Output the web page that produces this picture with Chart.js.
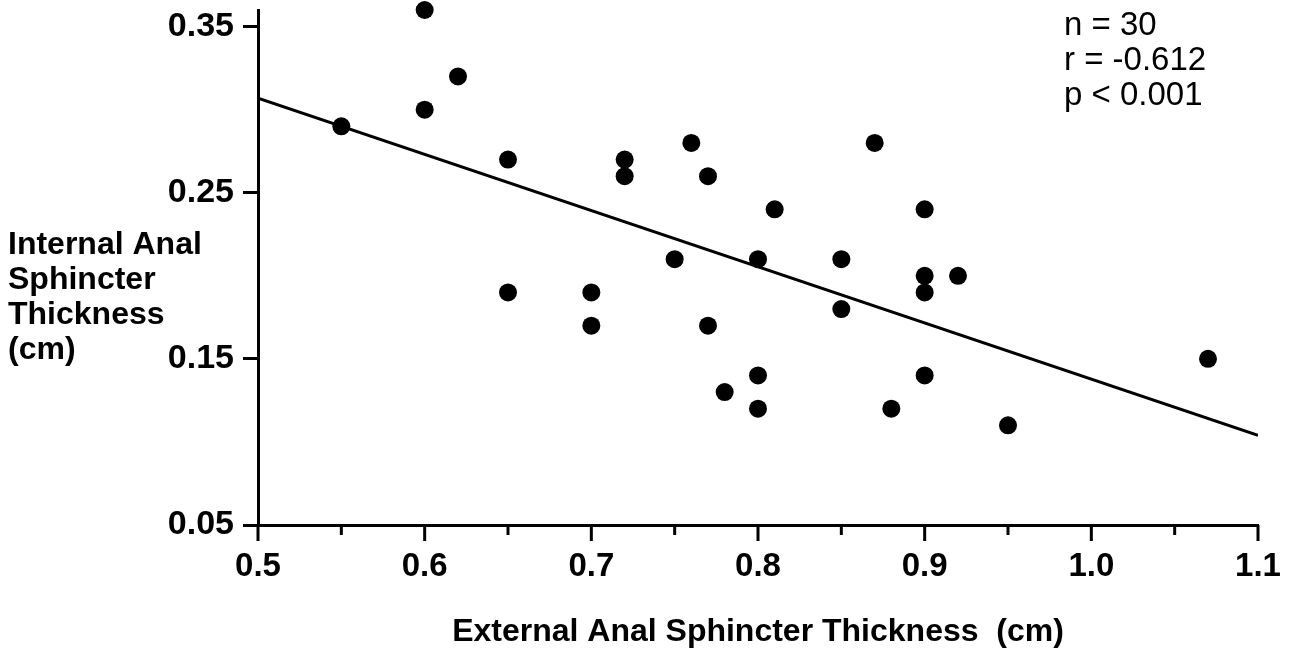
<!DOCTYPE html>
<html>
<head>
<meta charset="utf-8">
<script src="https://cdn.jsdelivr.net/npm/chart.js@4/dist/chart.umd.min.js"></script>
<style>
  html, body { margin: 0; padding: 0; background: #fff; }
  canvas { display: block; }
</style>
</head>
<body>
<canvas id="scatter" width="1296" height="652"></canvas>
<script>
// External anal sphincter thickness (cm)
const externalThickness = [0.55, 0.60, 0.62, 0.60, 0.65, 0.65, 0.70, 0.70, 0.72, 0.72,
  0.76, 0.75, 0.77, 0.77, 0.78, 0.80, 0.80, 0.80, 0.81, 0.85,
  0.85, 0.87, 0.88, 0.90, 0.90, 0.90, 0.90, 0.92, 0.95, 1.07];
// Internal anal sphincter thickness (cm)
const internalThickness = [0.29, 0.36, 0.32, 0.30, 0.27, 0.19, 0.19, 0.17, 0.27, 0.26,
  0.28, 0.21, 0.26, 0.17, 0.13, 0.21, 0.14, 0.12, 0.24, 0.21,
  0.18, 0.28, 0.12, 0.24, 0.20, 0.19, 0.14, 0.20, 0.11, 0.15];

// regression line end points
const fitX = [0.5, 1.1];
const fitY = [0.307, 0.104];

const yTickValues = [0.05, 0.15, 0.25, 0.35];
const yTitleLines = ['Internal Anal', 'Sphincter', 'Thickness', '(cm)'];
const xTitle = 'External Anal Sphincter Thickness  (cm)';
const statLines = ['n = 30', 'r = -0.612', 'p < 0.001'];

const FONT = '"Liberation Sans", Arial, Helvetica, sans-serif';

const points = externalThickness.map((x, i) => ({ x: x, y: internalThickness[i] }));
const fitLine = fitX.map((x, i) => ({ x: x, y: fitY[i] }));

// draws x ticks (long for labelled ones, short for halves) and the free texts
const extrasPlugin = {
  id: 'extras',
  afterDraw(chart) {
    const ctx = chart.ctx;
    const xs = chart.scales.x;
    const area = chart.chartArea;
    ctx.save();
    ctx.strokeStyle = '#000';
    ctx.lineWidth = 3;
    xs.ticks.forEach((t) => {
      const px = xs.getPixelForValue(t.value);
      const major = Math.round(t.value * 100) % 10 === 0;
      ctx.beginPath();
      ctx.moveTo(px, area.bottom);
      ctx.lineTo(px, area.bottom + (major ? 16 : 10));
      ctx.stroke();
    });

    ctx.fillStyle = '#000';
    ctx.textBaseline = 'middle';

    ctx.font = 'bold 32px ' + FONT;
    ctx.textAlign = 'center';
    ctx.fillText(xTitle, 758, 632);

    ctx.textAlign = 'left';
    yTitleLines.forEach((line, i) => {
      ctx.fillText(line, 8, 245 + i * 35);
    });

    ctx.font = '33px ' + FONT;
    statLines.forEach((line, i) => {
      ctx.fillText(line, 1064, 26 + i * 35);
    });
    ctx.restore();
  }
};

const config = {
  type: 'scatter',
  data: {
    datasets: [{
      label: 'patients',
      data: points,
      backgroundColor: '#000',
      borderColor: '#000',
      pointRadius: 9,
      pointHoverRadius: 9,
      borderWidth: 0,
      clip: false
    },
    {
      type: 'line',
      label: 'fit',
      data: fitLine,
      borderColor: '#000',
      borderWidth: 3,
      pointRadius: 0,
      fill: false,
      tension: 0
    }]
  },
  options: {
    responsive: false,
    animation: false,
    events: [],
    layout: { padding: { left: 0, right: 38, top: 10, bottom: 0 } },
    plugins: {
      legend: { display: false },
      tooltip: { enabled: false }
    },
    scales: {
      x: {
        type: 'linear',
        min: 0.5,
        max: 1.1,
        afterFit: (scale) => {
          scale.height = 127;
          scale.paddingLeft = 0;
          scale.paddingRight = 0;
        },
        border: { display: true, color: '#000', width: 3 },
        grid: { drawOnChartArea: false, drawTicks: false },
        ticks: {
          stepSize: 0.05,
          padding: 22,
          color: '#000',
          font: { family: FONT, size: 33, weight: 'bold' },
          maxRotation: 0,
          autoSkip: false,
          callback: (v) => (Math.round(v * 100) % 10 === 0 ? Number(v).toFixed(1) : '')
        }
      },
      y: {
        type: 'linear',
        min: 0.05,
        max: 0.36,
        afterFit: (scale) => {
          scale.width = 258;
          scale.paddingTop = 0;
          scale.paddingBottom = 0;
        },
        afterBuildTicks: (scale) => { scale.ticks = yTickValues.map((v) => ({ value: v })); },
        border: { display: true, color: '#000', width: 3 },
        grid: { drawOnChartArea: false, drawTicks: true, tickLength: 15, tickWidth: 3, tickColor: '#000' },
        ticks: {
          padding: 9,
          color: '#000',
          font: { family: FONT, size: 34, weight: 'bold' },
          callback: (v) => Number(v).toFixed(2)
        }
      }
    }
  },
  plugins: [extrasPlugin]
};

new Chart(document.getElementById('scatter'), config);
</script>
</body>
</html>
